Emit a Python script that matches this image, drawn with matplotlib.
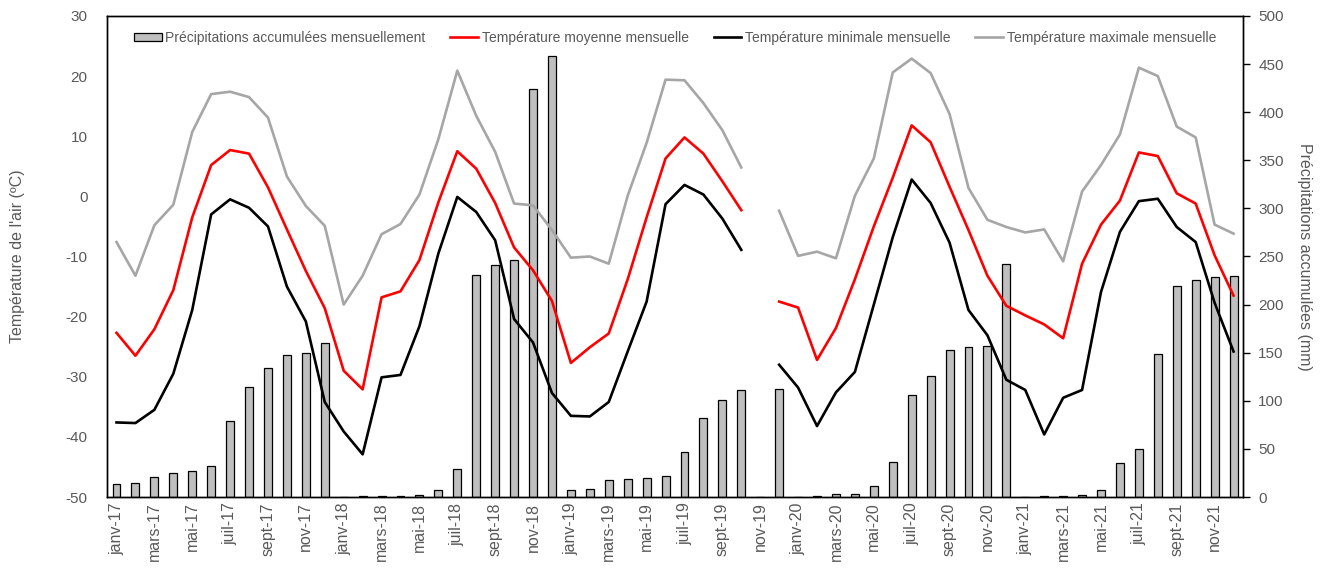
import numpy as np
import matplotlib.pyplot as plt

plt.rcParams["font.family"] = ["Liberation Sans", "DejaVu Sans"]
plt.rcParams["axes.unicode_minus"] = False

GREY_TXT = "#595959"

mois = ["janv", "févr", "mars", "avr", "mai", "juin",
        "juil", "août", "sept", "oct", "nov", "déc"]
annees = ["17", "18", "19", "20", "21"]
labels = [f"{m}-{a}" for a in annees for m in mois]

# Précipitations accumulées (mm)
precip = [
    14, 15, 21, 24.5, 27.5, 32.5, 79, 114, 134, 148, 150, 160,
    0, 0.8, 0.8, 1.1, 2.3, 7.2, 29, 231, 241, 246, 424, 458,
    7.5, 8, 18, 19, 19.6, 22.3, 46.4, 82, 101, 111, 0, 112,
    0, 0.8, 3, 3, 11.3, 36, 106, 126, 153, 156, 157, 242,
    0, 0.8, 0.8, 1.9, 6.8, 35.5, 50, 149, 219, 226, 229, 229.5,
]

nan = np.nan
# Température moyenne mensuelle (°C)
t_moy = [
    -22.7, -26.5, -22.1, -15.6, -3.5, 5.2, 7.7, 7.1, 1.5, -5.5, -12.4, -18.6,
    -29.0, -32.1, -16.8, -15.8, -10.6, -1.0, 7.5, 4.6, -1.1, -8.5, -12.3, -17.4,
    -27.7, -25.1, -22.8, -13.8, -3.5, 6.3, 9.8, 7.1, 2.5, -2.3, nan, -17.5,
    -18.5, -27.2, -21.9, -13.8, -5.0, 3.1, 11.8, 9.0, 1.6, -5.6, -13.2, -18.2,
    -19.8, -21.3, -23.6, -11.2, -4.7, -0.7, 7.3, 6.7, 0.5, -1.2, -9.8, -16.5,
]
# Température minimale mensuelle (°C)
t_min = [
    -37.6, -37.7, -35.5, -29.5, -18.9, -3.0, -0.5, -1.9, -5.0, -15.0, -20.8, -34.2,
    -39.1, -42.9, -30.1, -29.7, -21.6, -9.5, -0.1, -2.6, -7.3, -20.4, -24.3, -32.7,
    -36.5, -36.6, -34.2, -25.8, -17.5, -1.3, 1.9, 0.3, -3.7, -8.9, nan, -28.0,
    -31.8, -38.2, -32.6, -29.2, -18.0, -6.8, 2.8, -1.1, -7.7, -18.9, -23.1, -30.5,
    -32.2, -39.6, -33.5, -32.2, -15.9, -5.9, -0.8, -0.4, -5.1, -7.6, -17.7, -25.8,
]
# Température maximale mensuelle (°C)
t_max = [
    -7.6, -13.2, -4.8, -1.4, 10.7, 17.0, 17.4, 16.5, 13.1, 3.3, -1.6, -4.9,
    -18.0, -13.2, -6.3, -4.6, 0.3, 9.5, 20.9, 13.4, 7.4, -1.2, -1.5, -5.6,
    -10.2, -10.0, -11.2, 0.1, 8.9, 19.4, 19.3, 15.5, 11.0, 4.8, nan, -2.4,
    -9.9, -9.2, -10.3, 0.1, 6.3, 20.6, 22.9, 20.5, 13.7, 1.4, -3.9, -5.1,
    -6.0, -5.5, -10.8, 0.8, 5.2, 10.3, 21.4, 20.0, 11.6, 9.8, -4.7, -6.2,
]

x = np.arange(len(labels))

fig = plt.figure(figsize=(13.38, 5.69), dpi=100)
ax = fig.add_axes([0.080, 0.1265, 0.849, 0.8455])
ax2 = ax.twinx()

# bars on the secondary axis, kept behind the temperature curves
bars = ax2.bar(x, precip, width=0.42, color="#bfbfbf", edgecolor="black",
               linewidth=0.9, label="Précipitations accumulées mensuellement")
ax.set_zorder(ax2.get_zorder() + 1)
ax.patch.set_visible(False)

l_moy, = ax.plot(x, t_moy, color="#ff0000", lw=1.9,
                 label="Température moyenne mensuelle")
l_min, = ax.plot(x, t_min, color="black", lw=1.9,
                 label="Température minimale mensuelle")
l_max, = ax.plot(x, t_max, color="#a6a6a6", lw=1.9,
                 label="Température maximale mensuelle")

ax.set_xlim(-0.5, len(labels) - 0.5)
ax.set_ylim(-50, 30)
ax.set_yticks(range(-50, 31, 10))
ax2.set_ylim(0, 500)
ax2.set_yticks(range(0, 501, 50))

ax.set_xticks(x[::2])
ax.set_xticklabels(labels[::2], rotation=90, fontsize=11.5, color=GREY_TXT)
ax.tick_params(axis="x", length=0, pad=4)
ax.tick_params(axis="y", length=0, labelsize=11, labelcolor=GREY_TXT, pad=14)
ax2.tick_params(axis="y", direction="out", length=5, width=1, color="black",
                labelsize=11, labelcolor=GREY_TXT, pad=6)

for a in (ax, ax2):
    for s in a.spines.values():
        s.set_color("black")
        s.set_linewidth(1)

ax.set_ylabel("Température de l'air (ºC)", fontsize=11.5, color=GREY_TXT,
              labelpad=29)
ax2.set_ylabel("Précipitations accumulées (mm)", fontsize=11.5, color=GREY_TXT,
               rotation=270, labelpad=20)

leg = ax.legend([bars, l_moy, l_min, l_max],
                [bars.get_label(), l_moy.get_label(), l_min.get_label(),
                 l_max.get_label()],
                loc="upper center", bbox_to_anchor=(0.5, 0.995), ncol=4,
                frameon=False, fontsize=10, handlelength=2.0,
                handleheight=0.45, handletextpad=0.25, columnspacing=1.8)
for t in leg.get_texts():
    t.set_color(GREY_TXT)

fig.savefig("out.png", dpi=100)
